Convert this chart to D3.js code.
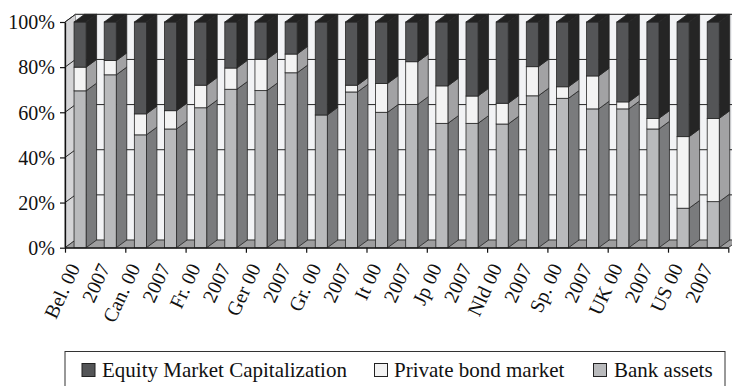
<!DOCTYPE html>
<html><head><meta charset="utf-8">
<script src="https://cdn.jsdelivr.net/npm/d3@7"></script>
<style>
html,body{margin:0;padding:0;background:#fff;}
svg{display:block;}
text{font-family:"Liberation Serif","Times New Roman",serif;fill:#111;}
</style></head>
<body>
<svg id="chart" width="732" height="386"></svg>
<script>
const categories = ["Bel. 00","2007","Can. 00","2007","Fr. 00","2007","Ger 00","2007","Gr. 00","2007","It 00","2007","Jp 00","2007","Nld 00","2007","Sp. 00","2007","UK 00","2007","US 00","2007"];
const bankAssets   = [69.5,76.6,50.0,52.6,62.0,70.2,69.6,77.5,58.8,69.0,60.0,63.5,55.1,55.1,54.8,67.3,66.2,61.5,61.5,52.6,17.5,20.4];
const privateBonds = [10.5, 6.3, 9.3, 8.1,10.0, 9.4,13.9, 8.3, 0.0, 3.0,12.8,18.9,16.6,12.1, 9.2,12.9, 5.1,14.6, 3.1, 4.7,31.7,36.9];
const equityCap    = [20.0,17.1,40.7,39.3,28.0,20.4,16.5,14.2,41.2,28.0,27.2,17.6,28.3,32.8,36.0,19.8,28.7,23.9,35.4,42.7,50.8,42.7];
const seriesNames  = ["Bank assets","Private bond market","Equity Market Capitalization"];
const yTicks = [0,20,40,60,80,100];

const svg = d3.select("#chart");
const L = 65, R = 728.3, T = 22, B = 247.7;
const dx = 10.5, dy = -7.7;

const rows = categories.map((c,i)=>({i, cat:c, "Bank assets":bankAssets[i], "Private bond market":privateBonds[i], "Equity Market Capitalization":equityCap[i]}));
const stack = d3.stack().keys(seriesNames)(rows);

const x = d3.scaleBand().domain(d3.range(categories.length)).range([L,R]);
const xIdx = d3.scaleLinear().domain([0,categories.length]).range([L,R]);
const y = d3.scaleLinear().domain([0,100]).range([B,T]);

const colors = {
  "Bank assets": {front:"#b9babc", side:"#7a7b7d", top:"#9a9b9d"},
  "Private bond market": {front:"#f3f3f3", side:"#a2a2a4", top:"#d9d9d9"},
  "Equity Market Capitalization": {front:"#545557", side:"#252525", top:"#222222"}
};
const stroke = "#262626";
const pts = a => a.map(p=>p.join(",")).join(" ");

// walls
svg.append("polygon").attr("points", pts([[L,y(100)],[L+dx,y(100)+dy],[L+dx,y(0)+dy],[L,y(0)]]))
  .attr("fill","#d4d4d6").attr("stroke",stroke).attr("stroke-width",0.8);
svg.append("rect").attr("x",L+dx).attr("y",y(100)+dy).attr("width",R-L).attr("height",y(0)-y(100))
  .attr("fill","#f2f3f5").attr("stroke","#9a9a9a").attr("stroke-width",0.8);
// floor
svg.append("polygon").attr("points", pts([[L,y(0)],[R,y(0)],[R+dx,y(0)+dy],[L+dx,y(0)+dy]]))
  .attr("fill","#9e9e9f").attr("stroke",stroke).attr("stroke-width",0.8);
// gridlines
const g = svg.append("g");
yTicks.filter(v=>v>0).forEach(v=>{
  g.append("line").attr("x1",L+dx).attr("x2",R+dx).attr("y1",y(v)+dy).attr("y2",y(v)+dy).attr("stroke",stroke).attr("stroke-width",1);
  g.append("line").attr("x1",L).attr("x2",L+dx).attr("y1",y(v)).attr("y2",y(v)+dy).attr("stroke",stroke).attr("stroke-width",1);
});

// bars
const bw = x.step()*0.4, off = x.step()*0.3;
const bars = svg.append("g");
rows.forEach((r,i)=>{
  const x0 = x(i)+off, x1 = x0+bw;
  stack.forEach((s,k)=>{
    const d = s[i]; const y0 = y(d[0]), y1 = y(d[1]);
    if (d[1]-d[0] <= 0) return;
    const c = colors[s.key];
    bars.append("polygon").attr("points", pts([[x1,y1],[x1+dx,y1+dy],[x1+dx,y0+dy],[x1,y0]]))
      .attr("fill",c.side).attr("stroke",stroke).attr("stroke-width",0.8).attr("stroke-linejoin","round");
    bars.append("rect").attr("x",x0).attr("y",y1).attr("width",bw).attr("height",y0-y1)
      .attr("fill",c.front).attr("stroke",stroke).attr("stroke-width",0.8);
  });
  const top = stack[stack.length-1][i][1];
  const yt = y(top);
  bars.append("polygon").attr("points", pts([[x0,yt],[x1,yt],[x1+dx,yt+dy],[x0+dx,yt+dy]]))
    .attr("fill",colors["Equity Market Capitalization"].top).attr("stroke",stroke).attr("stroke-width",0.8);
});

// y axis
const ya = svg.append("g").attr("transform",`translate(${L},0)`)
  .call(d3.axisLeft(y).tickValues(yTicks).tickFormat(d=>d+"%").tickSize(5).tickSizeOuter(0));
ya.select(".domain").attr("stroke","#111").attr("stroke-width",1.3);
ya.selectAll(".tick line").attr("stroke","#111").attr("stroke-width",1.2);
ya.selectAll(".tick text").attr("font-size",20).attr("font-family","Liberation Serif").attr("fill","#111").attr("x",-10).attr("dy","0.34em");

// x axis
const xa = svg.append("g").attr("transform",`translate(0,${B})`)
  .call(d3.axisBottom(xIdx).tickValues(d3.range(0,categories.length+1,2)).tickFormat("").tickSize(5).tickSizeOuter(0));
xa.select(".domain").attr("stroke","#111").attr("stroke-width",1.3);
xa.selectAll(".tick line").attr("stroke","#111").attr("stroke-width",1.2);

svg.append("g").selectAll("text").data(categories).join("text")
  .attr("transform",(d,i)=>`translate(${x(i)+x.bandwidth()/2-6},${B+17}) rotate(-65)`)
  .attr("text-anchor","end").attr("dy","0.35em").attr("font-size",20).text(d=>d);

// legend
const lg = svg.append("g");
lg.append("rect").attr("x",65).attr("y",351.5).attr("width",660).attr("height",60)
  .attr("fill","#fff").attr("stroke","#333").attr("stroke-width",1);
const legendItems = [
  {name:"Equity Market Capitalization", mx:82, tx:102},
  {name:"Private bond market", mx:374.5, tx:394},
  {name:"Bank assets", mx:593.5, tx:614}
];
legendItems.forEach(it=>{
  lg.append("rect").attr("x",it.mx).attr("y",363.5).attr("width",13).attr("height",13)
    .attr("fill",colors[it.name].front).attr("stroke","#222").attr("stroke-width",1);
  lg.append("text").attr("x",it.tx).attr("y",377).attr("font-size",21).text(it.name);
});
</script>
</body></html>
